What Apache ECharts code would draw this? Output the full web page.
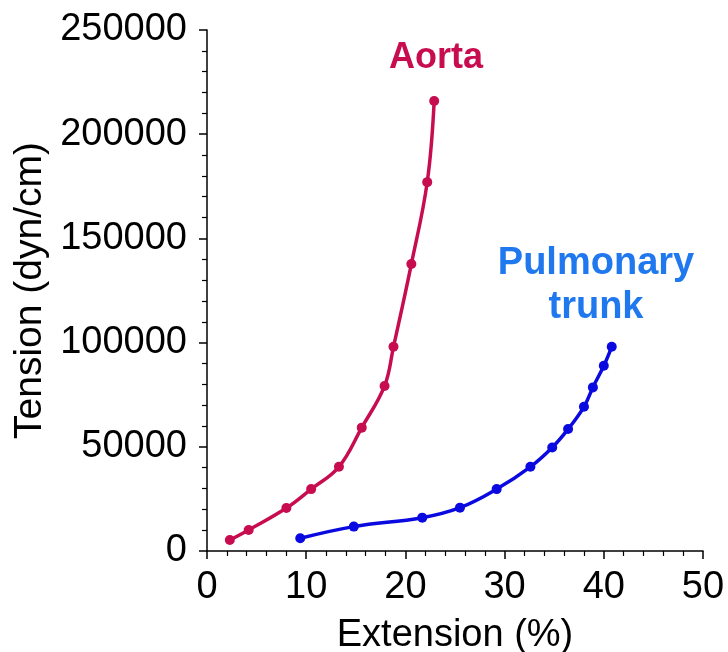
<!DOCTYPE html>
<html>
<head>
<meta charset="utf-8">
<script src="https://cdn.jsdelivr.net/npm/echarts@6/dist/echarts.min.js"></script>
<style>
  html, body { margin: 0; padding: 0; background: #fff; }
  #chart { width: 728px; height: 652px; }
</style>
</head>
<body>
<div id="chart"></div>
<script>
// extension (%) / tension (dyn/cm)
const aortaExt = [2.3, 4.2, 8.0, 10.5, 13.3, 15.6, 17.9, 18.8, 20.6, 22.2, 22.9]
const aortaTension = [5300, 10100, 20600, 29700, 40400, 59200, 79200, 98000, 137700, 177000, 215900]

const trunkExt = [9.4, 14.8, 21.7, 25.5, 29.2, 32.6, 34.8, 36.4, 38.0, 38.9, 40.0, 40.8]
const trunkTension = [6100, 11700, 16000, 20800, 29700, 40400, 49700, 58500, 69200, 78500, 88900, 98000]

const xTicks = [0, 10, 20, 30, 40, 50]
const yTicks = [0, 50000, 100000, 150000, 200000, 250000]

const zip = (xs, ys) => xs.map((x, i) => [x, ys[i]])

const chart = echarts.init(document.getElementById('chart'))

const axisCommon = {
  type: 'value',
  axisLine: { show: true, lineStyle: { color: '#000', width: 1.5 } },
  axisTick: { show: true, length: 8, lineStyle: { color: '#000', width: 1.5 } },
  minorTick: { show: true, splitNumber: 5, length: 5, lineStyle: { color: '#000', width: 1.2 } },
  splitLine: { show: false },
}

chart.setOption({
  animation: false,
  backgroundColor: '#fff',
  grid: { left: 207, right: 25, top: 30, bottom: 101, outerBoundsMode: 'none', containLabel: false },
  xAxis: {
    ...axisCommon,
    min: xTicks[0],
    max: xTicks[xTicks.length - 1],
    interval: 10,
    name: 'Extension (%)',
    nameLocation: 'middle',
    nameGap: 66,
    nameTextStyle: { color: '#000', fontSize: 38, fontFamily: 'Liberation Sans' },
    axisLabel: { color: '#000', fontSize: 38, margin: 18, fontFamily: 'Liberation Sans' },
  },
  yAxis: {
    ...axisCommon,
    min: yTicks[0],
    max: yTicks[yTicks.length - 1],
    interval: 50000,
    name: 'Tension (dyn/cm)',
    nameLocation: 'middle',
    nameGap: 156,
    nameTextStyle: { color: '#000', fontSize: 39, fontFamily: 'Liberation Sans' },
    axisLabel: { color: '#000', fontSize: 38, margin: 20, fontFamily: 'Liberation Sans', formatter: (v) => String(v) },
  },
  graphic: [
    {
      type: 'text', x: 436, y: 40,
      style: { text: 'Aorta', fill: '#c70d4f', font: 'bold 36px Liberation Sans', align: 'center' },
    },
    {
      type: 'text', x: 596, y: 242,
      style: {
        text: 'Pulmonary\ntrunk', fill: '#1f78ee', font: 'bold 38px Liberation Sans',
        align: 'center', lineHeight: 44,
      },
    },
  ],
  series: [
    {
      name: 'Aorta',
      type: 'line',
      data: zip(aortaExt, aortaTension),
      smooth: 0.4,
      symbol: 'circle',
      symbolSize: 10,
      lineStyle: { color: '#c70d4f', width: 3.5 },
      itemStyle: { color: '#c70d4f' },
    },
    {
      name: 'Pulmonary trunk',
      type: 'line',
      data: zip(trunkExt, trunkTension),
      smooth: 0.4,
      symbol: 'circle',
      symbolSize: 10,
      lineStyle: { color: '#0a0ae0', width: 3.5 },
      itemStyle: { color: '#0a0ae0' },
    },
  ],
})
</script>
</body>
</html>
